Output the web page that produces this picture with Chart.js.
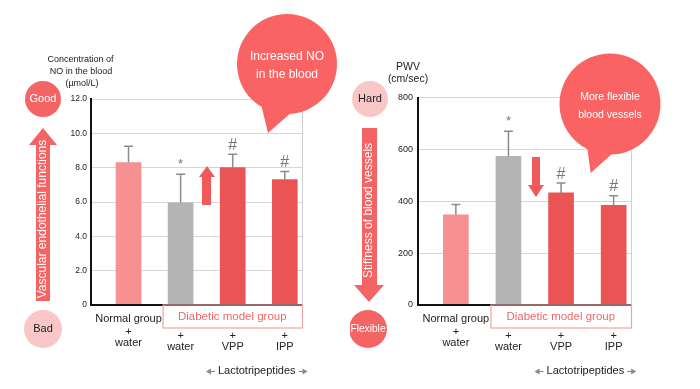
<!DOCTYPE html>
<html lang="en">
<head>
<meta charset="UTF-8">
<title>NO in the blood and PWV</title>
<script src="https://cdn.jsdelivr.net/npm/chart.js"></script>
<style>
    body { margin: 0; background: #fff; }
    .wrap { position: relative; width: 700px; height: 389px; overflow: hidden; }
    .panel { position: absolute; top: 0; width: 350px; height: 389px; }
    #noPanel { left: 0; }
    #pwvPanel { left: 350px; }
</style>
</head>
<body>
<div class="wrap">
    <div class="panel" id="noPanel"><canvas id="noChart" width="350" height="389"></canvas></div>
    <div class="panel" id="pwvPanel"><canvas id="pwvChart" width="350" height="389"></canvas></div>
</div>
<script>
// data
const xLabels = [['Normal group', '+', 'water'], ['+', 'water'], ['+', 'VPP'], ['+', 'IPP']];
const noValues = [8.3, 5.95, 8.0, 7.3];
const noErrors = [0.95, 1.67, 0.78, 0.48];
const pwvValues = [348, 573, 432, 384];
const pwvErrors = [39, 97, 38, 37];
const marks = ['', '*', '#', '#'];
const barColors = ['#f79191', '#b4b4b4', '#eb5454', '#eb5454'];

const FONT = "'Liberation Sans', Arial, Helvetica, sans-serif";
const RED = '#f56464';
const PINK = '#f9c7c7';
const TEXT = '#222';

Chart.defaults.font.family = FONT;

function font(size) { return size + 'px ' + FONT; }

function text(ctx, str, x, y, size, color) {
    ctx.font = font(size);
    ctx.fillStyle = color;
    ctx.textAlign = 'center';
    ctx.textBaseline = 'middle';
    ctx.fillText(str, x, y);
}

function hArrow(ctx, x1, x2, y) {
    const dir = Math.sign(x2 - x1);
    ctx.strokeStyle = '#8a8a8a';
    ctx.fillStyle = '#8a8a8a';
    ctx.lineWidth = 1.2;
    ctx.beginPath();
    ctx.moveTo(x1, y);
    ctx.lineTo(x2 - dir * 4, y);
    ctx.stroke();
    ctx.beginPath();
    ctx.moveTo(x2, y);
    ctx.lineTo(x2 - dir * 5, y - 3);
    ctx.lineTo(x2 - dir * 5, y + 3);
    ctx.closePath();
    ctx.fill();
}

// vertical block arrow: shaft sx0..sx1, head hx0..hx1
function vArrow(ctx, sx0, sx1, hx0, hx1, yTail, yHeadBase, yTip, color) {
    const cx = (hx0 + hx1) / 2;
    ctx.fillStyle = color;
    ctx.beginPath();
    ctx.moveTo(sx0, yTail);
    ctx.lineTo(sx0, yHeadBase);
    ctx.lineTo(hx0, yHeadBase);
    ctx.lineTo(cx, yTip);
    ctx.lineTo(hx1, yHeadBase);
    ctx.lineTo(sx1, yHeadBase);
    ctx.lineTo(sx1, yTail);
    ctx.closePath();
    ctx.fill();
}

function circle(ctx, x, y, r, color) {
    ctx.fillStyle = color;
    ctx.beginPath();
    ctx.arc(x, y, r, 0, Math.PI * 2);
    ctx.fill();
}

function bubble(ctx, cx, cy, r, tail, lines, size) {
    ctx.fillStyle = '#fa6363';
    ctx.beginPath();
    ctx.arc(cx, cy, r, 0, Math.PI * 2);
    ctx.fill();
    ctx.beginPath();
    ctx.moveTo(tail[0][0], tail[0][1]);
    ctx.lineTo(tail[1][0], tail[1][1]);
    ctx.lineTo(tail[2][0], tail[2][1]);
    ctx.closePath();
    ctx.fill();
    lines.forEach(l => text(ctx, l[0], cx, l[1], size, '#fff'));
}

function rotatedText(ctx, str, x, y, size, color) {
    ctx.save();
    ctx.translate(x, y);
    ctx.rotate(-Math.PI / 2);
    text(ctx, str, 0, 0, size, color);
    ctx.restore();
}

function decorPlugin(errors, extra) {
    return {
        id: 'decor',
        afterDatasetsDraw(chart) {
            const ctx = chart.ctx;
            const area = chart.chartArea;
            const y = chart.scales.y;
            const meta = chart.getDatasetMeta(0);
            const values = chart.data.datasets[0].data;
            ctx.save();
            // right border
            ctx.strokeStyle = '#cfcfcf';
            ctx.lineWidth = 1;
            ctx.beginPath();
            ctx.moveTo(area.right + 0.5, area.top);
            ctx.lineTo(area.right + 0.5, area.bottom);
            ctx.stroke();
            // error bars + significance marks
            meta.data.forEach((el, i) => {
                const yErr = y.getPixelForValue(values[i].y + errors[i]);
                ctx.strokeStyle = '#8c8c8c';
                ctx.lineWidth = 1.5;
                ctx.beginPath();
                ctx.moveTo(el.x, el.y);
                ctx.lineTo(el.x, yErr);
                ctx.moveTo(el.x - 4.5, yErr);
                ctx.lineTo(el.x + 4.5, yErr);
                ctx.stroke();
                if (marks[i] === '*') text(ctx, '*', el.x, yErr - 10, 13, '#777');
                if (marks[i] === '#') text(ctx, '#', el.x, yErr - 9, 16, '#777');
            });
            // bottom axis line
            ctx.strokeStyle = '#111';
            ctx.lineWidth = 2;
            ctx.beginPath();
            ctx.moveTo(area.left - 1, area.bottom);
            ctx.lineTo(area.right, area.bottom);
            ctx.stroke();
            ctx.restore();
        },
        afterDraw(chart) {
            const ctx = chart.ctx;
            const area = chart.chartArea;
            const els = chart.getDatasetMeta(0).data;
            ctx.save();
            // category labels
            els.forEach((el, i) => {
                const lines = xLabels[i];
                if (lines.length === 3) {
                    text(ctx, lines[0], el.x, 319, 11, TEXT);
                    text(ctx, lines[1], el.x, 332, 11, TEXT);
                    text(ctx, lines[2], el.x, 343, 11, TEXT);
                } else {
                    text(ctx, lines[0], el.x, 336, 11, TEXT);
                    text(ctx, lines[1], el.x, 347, 11, TEXT);
                }
            });
            // diabetic group box
            const bx0 = els[1].x - 18, bx1 = area.right;
            ctx.strokeStyle = '#f4a3a3';
            ctx.lineWidth = 1.2;
            ctx.strokeRect(bx0 + 0.5, area.bottom, bx1 - bx0, 23);
            text(ctx, 'Diabetic model group', (bx0 + bx1) / 2, area.bottom + 11.5, 11.5, '#ef6767');
            // lactotripeptides
            const lx = (els[2].x + els[3].x) / 2 - 2;
            ctx.font = font(11);
            const w = ctx.measureText('Lactotripeptides').width;
            text(ctx, 'Lactotripeptides', lx, 371, 11, TEXT);
            hArrow(ctx, lx - w / 2 - 3, lx - w / 2 - 12, 371.5);
            hArrow(ctx, lx + w / 2 + 3, lx + w / 2 + 12, 371.5);
            extra(ctx, chart);
            ctx.restore();
        }
    };
}

function makeChart(id, values, errors, yOpts, layout, extra) {
    return new Chart(document.getElementById(id), {
        type: 'bar',
        data: {
            datasets: [{
                data: values.map((v, i) => ({ x: i, y: v })),
                backgroundColor: barColors,
                barThickness: 25
            }]
        },
        options: {
            responsive: false,
            animation: false,
            layout: { padding: layout.padding },
            plugins: { legend: { display: false }, tooltip: { enabled: false } },
            scales: {
                x: { type: 'linear', display: false, offset: false, min: -0.72, max: 3.33 },
                y: Object.assign({
                    afterFit: s => { s.width = layout.yWidth; },
                    grid: { color: '#d6d6d6', drawTicks: false },
                    border: { color: '#111', width: 2 }
                }, yOpts)
            }
        },
        plugins: [decorPlugin(errors, extra)]
    });
}

makeChart('noChart', noValues, noErrors, {
    min: 0, max: 12,
    ticks: {
        stepSize: 2, padding: 4, color: TEXT, font: { size: 8.5 },
        callback: v => v === 0 ? '0' : v.toFixed(1)
    }
}, { padding: { left: 0, top: 99, right: 48, bottom: 84 }, yWidth: 91 }, (ctx) => {
    text(ctx, 'Concentration of', 80.5, 60, 9, TEXT);
    text(ctx, 'NO in the blood', 81, 72, 9, TEXT);
    text(ctx, '(\u00b5mol/L)', 82, 83.5, 9, TEXT);
    vArrow(ctx, 36, 50, 29, 57, 301, 145, 128, RED);
    rotatedText(ctx, 'Vascular endothelial functions', 43, 219, 12, '#fff');
    circle(ctx, 43, 99, 18, RED);
    text(ctx, 'Good', 43, 99, 11, '#fff');
    circle(ctx, 43, 329, 19, PINK);
    text(ctx, 'Bad', 43, 329, 11, TEXT);
    vArrow(ctx, 202, 211, 199, 215, 205, 177, 166, '#f05a5a');
    bubble(ctx, 287, 64, 50, [[261, 104], [292, 112], [268, 133]],
        [['Increased NO', 57], ['in the blood', 75]], 12);
});

makeChart('pwvChart', pwvValues, pwvErrors, {
    min: 0, max: 800,
    ticks: { stepSize: 200, padding: 5, color: TEXT, font: { size: 9 } }
}, { padding: { left: 0, top: 97.5, right: 69, bottom: 84 }, yWidth: 68 }, (ctx) => {
    text(ctx, 'PWV', 58, 67, 10.5, TEXT);
    text(ctx, '(cm/sec)', 58, 79, 10.5, TEXT);
    vArrow(ctx, 12, 27, 4, 34, 128, 285, 302, RED);
    rotatedText(ctx, 'Stiffness of blood vessels', 19, 210.5, 12, '#fff');
    circle(ctx, 20, 99, 18, PINK);
    text(ctx, 'Hard', 20, 99, 11, TEXT);
    circle(ctx, 18, 329, 19, RED);
    text(ctx, 'Flexible', 18, 329, 10.2, '#fff');
    vArrow(ctx, 182, 190, 178, 194, 157, 185, 197, '#f05a5a');
    bubble(ctx, 260, 104, 50.5, [[237, 146], [263, 153], [240.7, 173]],
        [['More flexible', 97], ['blood vessels', 115]], 10.5);
});
</script>
</body>
</html>
